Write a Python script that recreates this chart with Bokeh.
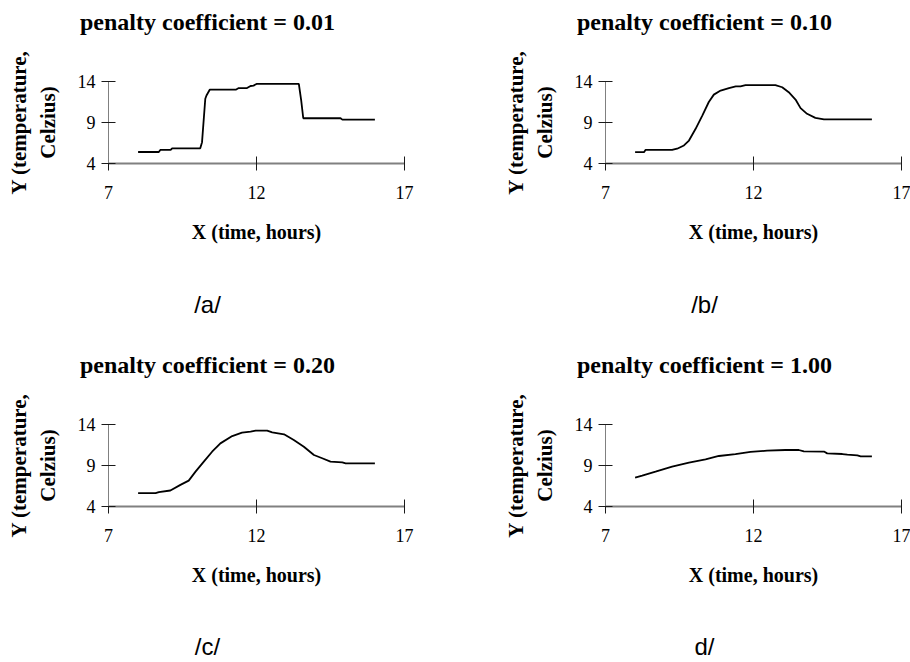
from bokeh.plotting import figure
from bokeh.layouts import column, row
from bokeh.models import Range1d, FixedTicker, Title
from bokeh.embed import file_html
from bokeh.resources import INLINE

# ---------------- data ----------------
x_ticks = [7, 12, 17]
y_ticks = [4, 9, 14]
x_label = "X (time, hours)"
y_label = "Y (temperature,\nCelzius)"

titles = ["penalty coefficient = 0.01", "penalty coefficient = 0.10",
          "penalty coefficient = 0.20", "penalty coefficient = 1.00"]
panel_tags = ["/a/", "/b/", "/c/", "d/"]

a_x = [8.0, 8.7, 8.75, 9.1, 9.15, 10.1, 10.16, 10.27, 10.31, 10.42, 11.3, 11.4, 11.68,
       11.8, 11.9, 12.0, 13.43, 13.51, 13.58, 14.84, 14.9, 16.0]
a_y = [5.4, 5.4, 5.65, 5.65, 5.85, 5.85, 6.6, 11.9, 12.3, 13.0, 13.0, 13.2, 13.2,
       13.45, 13.5, 13.7, 13.7, 11.7, 9.52, 9.52, 9.35, 9.35]

b_x = [8.0, 8.3, 8.35, 9.25, 9.42, 9.65, 9.82, 10.04, 10.27, 10.49, 10.66, 10.89, 11.17,
       11.4, 11.56, 11.73, 12.74, 12.97, 13.19, 13.42, 13.59, 13.81, 14.09, 14.38, 16.0]
b_y = [5.38, 5.38, 5.65, 5.65, 5.8, 6.2, 6.8, 8.2, 9.85, 11.5, 12.4, 12.9, 13.2,
       13.4, 13.4, 13.55, 13.55, 13.3, 12.7, 11.8, 10.75, 10.06, 9.57, 9.37, 9.37]

c_x = [8.0, 8.59, 8.70, 9.09, 9.43, 9.71, 9.94, 10.22, 10.5, 10.78, 11.18, 11.51, 11.8,
       11.97, 12.36, 12.53, 12.93, 13.26, 13.6, 13.94, 14.22, 14.5, 14.9, 15.01, 16.0]
c_y = [5.63, 5.63, 5.75, 5.95, 6.64, 7.16, 8.25, 9.47, 10.68, 11.7, 12.59, 13.0, 13.13,
       13.25, 13.25, 13.04, 12.8, 12.1, 11.29, 10.28, 9.88, 9.47, 9.39, 9.27, 9.27]

d_x = [8.0, 8.24, 8.69, 9.25, 9.82, 10.38, 10.83, 11.39, 11.9, 12.46, 13.08, 13.53, 13.7,
       14.38, 14.49, 15.0, 15.17, 15.51, 15.62, 16.0]
d_y = [7.52, 7.77, 8.25, 8.86, 9.35, 9.76, 10.16, 10.4, 10.65, 10.81, 10.89, 10.89, 10.73,
       10.7, 10.48, 10.4, 10.32, 10.24, 10.12, 10.12]

series = [(a_x, a_y), (b_x, b_y), (c_x, c_y), (d_x, d_y)]

# ---------------- layout ----------------
FRAME_W, FRAME_H = 296, 82
X0, X1, Y0, Y1 = 7, 17, 4, 14
SERIF = "Liberation Serif"
SANS = "Liberation Sans"

# approximate glyph advance widths (em) used to centre left-aligned titles
SERIF_BOLD_W = {"p": .556, "e": .444, "n": .556, "a": .5, "l": .278, "t": .333, "y": .5,
                " ": .25, "c": .444, "o": .5, "f": .333, "i": .278, "=": .57,
                ".": .25, "0": .5, "1": .5, "2": .5}
SANS_W = {"/": .278, "a": .556, "b": .556, "c": .5, "d": .556}


def text_width(text, table, size):
    return sum(table.get(ch, .5) for ch in text) * size


def spacer(gap):
    # an empty title used only as vertical spacing inside a side panel
    return Title(text=" ", text_font_size="1px", standoff=max(gap - 3, 0))


def make_panel(xs, ys, title, tag, left, right, top, bottom, tag_gap):
    p = figure(frame_width=FRAME_W, frame_height=FRAME_H,
               x_range=Range1d(X0, X1), y_range=Range1d(Y0, Y1),
               output_backend="svg", toolbar_location=None,
               min_border_left=left, min_border_right=right,
               min_border_top=top, min_border_bottom=bottom)
    p.outline_line_color = None
    p.xgrid.visible = False
    p.ygrid.visible = False
    p.background_fill_color = "white"
    p.border_fill_color = "white"

    for ax, ticks in ((p.xaxis[0], x_ticks), (p.yaxis[0], y_ticks)):
        ax.ticker = FixedTicker(ticks=ticks)
        ax.major_tick_in = 7
        ax.major_tick_out = 7
        ax.minor_tick_line_color = None
        ax.major_tick_line_color = "#1a1a1a"
        ax.major_tick_line_width = 1
        ax.axis_line_color = "#808080"
        ax.major_label_text_font = SERIF
        ax.major_label_text_font_size = "18px"
        ax.major_label_text_color = "black"
        ax.axis_label_text_font = SERIF
        ax.axis_label_text_font_style = "bold"
        ax.axis_label_text_color = "black"
    p.xaxis.axis_line_width = 2
    p.yaxis.axis_line_width = 1
    p.xaxis.major_label_standoff = 15
    p.yaxis.major_label_standoff = 6
    p.xaxis.axis_label = x_label
    p.xaxis.axis_label_text_font_size = "20px"
    p.xaxis.axis_label_standoff = 19
    p.yaxis.axis_label = y_label
    p.yaxis.axis_label_text_font_size = "21px"
    p.yaxis.axis_label_standoff = 15

    p.line(xs, ys, line_color="black", line_width=1.8)

    # title above the frame
    p.add_layout(spacer(47), "above")
    tw = text_width(title, SERIF_BOLD_W, 24)
    p.add_layout(Title(text=title, align="left", offset=99 - tw / 2,
                       text_font=SERIF, text_font_size="24px", text_font_style="bold",
                       text_color="black", standoff=0, vertical_align="bottom"), "above")
    # panel tag below the x axis
    p.add_layout(spacer(tag_gap), "below")
    gw = text_width(tag, SANS_W, 24)
    p.add_layout(Title(text=tag, align="left", offset=99 - gw / 2,
                       text_font=SANS, text_font_size="24px", text_font_style="normal",
                       text_color="black", standoff=0, vertical_align="bottom"), "below")
    return p


pa = make_panel(*series[0], titles[0], panel_tags[0], 108, 51, 81, 180, 43)
pb = make_panel(*series[1], titles[1], panel_tags[1], 150, 9, 81, 180, 43)
pc = make_panel(*series[2], titles[2], panel_tags[2], 108, 51, 81, 156, 42)
pd = make_panel(*series[3], titles[3], panel_tags[3], 150, 9, 81, 156, 42)

layout = column(row(pa, pb, spacing=0), row(pc, pd, spacing=0), spacing=0)

open("out.html", "w").write(file_html(layout, INLINE))
